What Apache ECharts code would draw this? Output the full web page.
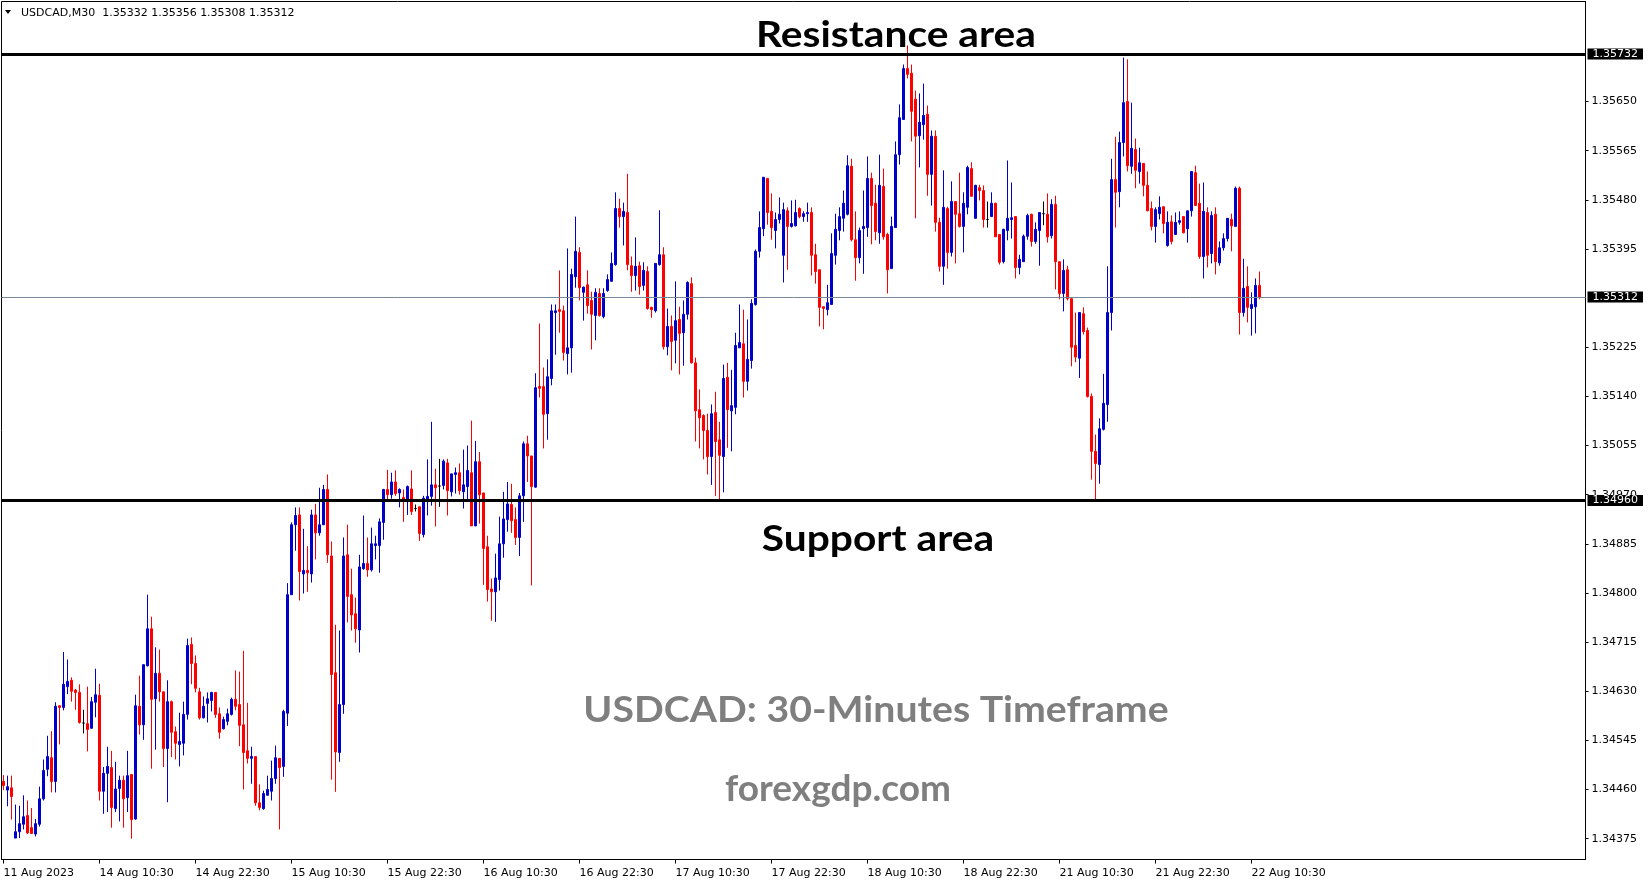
<!DOCTYPE html>
<html>
<head>
<meta charset="utf-8">
<script src="https://cdn.jsdelivr.net/npm/echarts@6/dist/echarts.min.js"></script>
<style>
html,body{margin:0;padding:0;background:#ffffff;}
#chart{width:1649px;height:884px;}
</style>
</head>
<body>
<div id="chart"></div>
<script>
// ---------- data ----------
const symbolName = 'USDCAD,M30';
const tickLabels = ['11 Aug 2023','14 Aug 10:30','14 Aug 22:30','15 Aug 10:30','15 Aug 22:30','16 Aug 10:30','16 Aug 22:30','17 Aug 10:30','17 Aug 22:30','18 Aug 10:30','18 Aug 22:30','21 Aug 10:30','21 Aug 22:30','22 Aug 10:30'];
const barsPerLabel = 24;
const totalSlots = 396;

const opens = [
1.34474,1.34459,1.34463,1.34376,1.34387,1.34400,1.34415,1.34394,1.34383,1.34400,
1.34444,1.34495,1.34515,1.34474,1.34605,1.34602,1.34638,1.34649,1.34632,1.34628,
1.34575,1.34574,1.34566,1.34611,1.34623,1.34457,1.34488,1.34498,1.34427,1.34462,
1.34476,1.34446,1.34486,1.34409,1.34604,1.34572,1.34674,1.34738,1.34617,1.34661,
1.34629,1.34531,1.34612,1.34560,1.34538,1.34540,1.34590,1.34711,1.34678,1.34629,
1.34584,1.34609,1.34614,1.34628,1.34591,1.34565,1.34578,1.34590,1.34616,1.34607,
1.34572,1.34527,1.34514,1.34517,1.34437,1.34427,1.34450,1.34457,1.34479,1.34514,
1.34500,1.34592,1.34797,1.34918,1.34935,1.34833,1.34839,1.34833,1.34935,1.34904,
1.34918,1.34979,1.34864,1.34662,1.34524,1.34607,1.34866,1.34797,1.34764,1.34736,
1.34842,1.34851,1.34840,1.34882,1.34882,1.34922,1.34979,1.34970,1.34992,1.34973,
1.34965,1.34961,1.34980,1.34946,1.34949,1.34901,1.34961,1.34967,1.34987,1.34985,
1.34986,1.35025,1.34975,1.35005,1.35008,1.34975,1.34984,1.35008,1.34916,1.35027,
1.34973,1.34880,1.34807,1.34802,1.34823,1.34885,1.34927,1.34953,1.34927,1.34896,
1.34968,1.35058,1.35037,1.34983,1.35157,1.35157,1.35110,1.35171,1.35285,1.35290,
1.35288,1.35214,1.35224,1.35347,1.35389,1.35320,1.35333,1.35306,1.35280,1.35318,
1.35278,1.35323,1.35339,1.35368,1.35465,1.35451,1.35458,1.35366,1.35349,1.35366,
1.35332,1.35356,1.35294,1.35288,1.35368,1.35385,1.35226,1.35261,1.35237,1.35273,
1.35250,1.35282,1.35335,1.35198,1.35117,1.35107,1.35081,1.35036,1.35112,1.35065,
1.35036,1.35173,1.35115,1.35121,1.35224,1.35231,1.35166,1.35202,1.35299,1.35391,
1.35430,1.35517,1.35460,1.35427,1.35446,1.35384,1.35461,1.35434,1.35435,1.35465,
1.35451,1.35456,1.35458,1.35385,1.35359,1.35295,1.35290,1.35299,1.35384,1.35427,
1.35448,1.35455,1.35538,1.35411,1.35380,1.35430,1.35432,1.35517,1.35474,1.35423,
1.35503,1.35420,1.35361,1.35432,1.35558,1.35619,1.35707,1.35699,1.35654,1.35591,
1.35610,1.35628,1.35524,1.35590,1.35441,1.35365,1.35465,1.35389,1.35477,1.35456,
1.35434,1.35467,1.35534,1.35448,1.35501,1.35496,1.35446,1.35451,1.35474,1.35420,
1.35373,1.35427,1.35446,1.35451,1.35363,1.35373,1.35417,1.35455,1.35408,1.35427,
1.35456,1.35455,1.35418,1.35472,1.35373,1.35318,1.35359,1.35309,1.35228,1.35206,
1.35283,1.35254,1.35140,1.35045,1.35022,1.35083,1.35126,1.35285,1.35515,1.35494,
1.35579,1.35650,1.35538,1.35567,1.35529,1.35543,1.35505,1.35465,1.35434,1.35456,
1.35468,1.35401,1.35442,1.35420,1.35441,1.35451,1.35430,1.35461,1.35527,1.35474,
1.35382,1.35458,1.35387,1.35455,1.35371,1.35397,1.35413,1.35446,1.35434,1.35500,
1.35285,1.35330,1.35292,1.35295,1.35332
];
const highs = [
1.34485,1.34484,1.34484,1.34434,1.34432,1.34450,1.34441,1.34428,1.34409,1.34465,
1.34512,1.34553,1.34561,1.34611,1.34605,1.34698,1.34685,1.34654,1.34634,1.34642,
1.34598,1.34638,1.34620,1.34669,1.34643,1.34499,1.34534,1.34527,1.34508,1.34484,
1.34484,1.34527,1.34486,1.34624,1.34657,1.34676,1.34797,1.34759,1.34706,1.34702,
1.34629,1.34649,1.34614,1.34569,1.34593,1.34612,1.34721,1.34723,1.34692,1.34636,
1.34621,1.34628,1.34629,1.34628,1.34602,1.34586,1.34600,1.34619,1.34666,1.34664,
1.34700,1.34610,1.34534,1.34517,1.34469,1.34458,1.34484,1.34510,1.34536,1.34514,
1.34598,1.34817,1.34922,1.34948,1.34948,1.34911,1.34881,1.34944,1.34954,1.34982,
1.34987,1.35005,1.34889,1.34745,1.34735,1.34896,1.34918,1.34842,1.34792,1.34866,
1.34934,1.34896,1.34913,1.34899,1.34929,1.34980,1.35013,1.35008,1.35012,1.34981,
1.34979,1.34986,1.35012,1.34953,1.34949,1.34968,1.35031,1.35096,1.35015,1.35032,
1.35031,1.35032,1.35006,1.35017,1.35024,1.35048,1.35055,1.35098,1.35063,1.35044,
1.34973,1.34899,1.34825,1.34868,1.34932,1.34975,1.34992,1.34989,1.34948,1.34973,
1.35062,1.35072,1.35037,1.35180,1.35266,1.35190,1.35204,1.35299,1.35299,1.35358,
1.35297,1.35396,1.35361,1.35451,1.35398,1.35330,1.35358,1.35321,1.35327,1.35327,
1.35327,1.35351,1.35389,1.35493,1.35482,1.35475,1.35525,1.35382,1.35415,1.35373,
1.35372,1.35365,1.35295,1.35370,1.35462,1.35398,1.35292,1.35280,1.35339,1.35295,
1.35306,1.35339,1.35346,1.35207,1.35152,1.35109,1.35110,1.35126,1.35148,1.35096,
1.35195,1.35198,1.35186,1.35250,1.35299,1.35290,1.35273,1.35308,1.35394,1.35460,
1.35519,1.35517,1.35491,1.35458,1.35484,1.35475,1.35467,1.35479,1.35480,1.35467,
1.35460,1.35475,1.35467,1.35404,1.35359,1.35295,1.35333,1.35422,1.35456,1.35467,
1.35496,1.35557,1.35551,1.35460,1.35432,1.35496,1.35555,1.35527,1.35506,1.35558,
1.35534,1.35423,1.35451,1.35581,1.35645,1.35714,1.35747,1.35714,1.35669,1.35664,
1.35681,1.35643,1.35600,1.35600,1.35449,1.35531,1.35468,1.35512,1.35477,1.35527,
1.35493,1.35539,1.35545,1.35506,1.35506,1.35505,1.35477,1.35493,1.35475,1.35420,
1.35430,1.35548,1.35510,1.35451,1.35385,1.35420,1.35456,1.35456,1.35441,1.35458,
1.35477,1.35491,1.35481,1.35487,1.35373,1.35377,1.35366,1.35312,1.35285,1.35285,
1.35294,1.35259,1.35145,1.35074,1.35102,1.35179,1.35365,1.35551,1.35589,1.35598,
1.35726,1.35723,1.35648,1.35586,1.35570,1.35543,1.35529,1.35477,1.35467,1.35486,
1.35468,1.35460,1.35453,1.35458,1.35460,1.35451,1.35461,1.35529,1.35539,1.35508,
1.35510,1.35467,1.35460,1.35467,1.35408,1.35422,1.35448,1.35456,1.35503,1.35503,
1.35378,1.35365,1.35320,1.35344,1.35356
];
const lows = [
1.34459,1.34431,1.34408,1.34376,1.34376,1.34391,1.34383,1.34383,1.34379,1.34396,
1.34441,1.34483,1.34455,1.34455,1.34538,1.34597,1.34625,1.34612,1.34598,1.34574,
1.34557,1.34526,1.34565,1.34585,1.34441,1.34418,1.34421,1.34394,1.34421,1.34405,
1.34394,1.34421,1.34375,1.34408,1.34555,1.34546,1.34673,1.34496,1.34529,1.34612,
1.34499,1.34438,1.34516,1.34512,1.34500,1.34519,1.34581,1.34642,1.34628,1.34581,
1.34583,1.34576,1.34595,1.34584,1.34548,1.34564,1.34571,1.34588,1.34597,1.34535,
1.34460,1.34505,1.34470,1.34432,1.34424,1.34425,1.34450,1.34441,1.34470,1.34391,
1.34482,1.34570,1.34797,1.34873,1.34787,1.34799,1.34802,1.34818,1.34858,1.34899,
1.34918,1.34852,1.34477,1.34456,1.34508,1.34591,1.34749,1.34735,1.34714,1.34697,
1.34840,1.34828,1.34837,1.34858,1.34835,1.34892,1.34961,1.34963,1.34968,1.34948,
1.34923,1.34935,1.34935,1.34941,1.34890,1.34896,1.34934,1.34951,1.34915,1.34949,
1.34979,1.34934,1.34967,1.34972,1.34970,1.34946,1.34960,1.34916,1.34916,1.34920,
1.34814,1.34785,1.34752,1.34750,1.34804,1.34861,1.34906,1.34904,1.34883,1.34864,
1.34923,1.34992,1.34813,1.34982,1.35138,1.35050,1.35065,1.35159,1.35212,1.35250,
1.35202,1.35178,1.35181,1.35328,1.35306,1.35271,1.35283,1.35221,1.35237,1.35278,
1.35275,1.35321,1.35339,1.35366,1.35432,1.35401,1.35358,1.35321,1.35323,1.35316,
1.35323,1.35290,1.35276,1.35285,1.35366,1.35221,1.35211,1.35185,1.35197,1.35178,
1.35193,1.35273,1.35197,1.35062,1.35050,1.35031,1.35005,1.34987,1.34968,1.34961,
1.34974,1.35051,1.35045,1.35109,1.35224,1.35138,1.35150,1.35188,1.35297,1.35380,
1.35417,1.35437,1.35411,1.35396,1.35439,1.35337,1.35359,1.35432,1.35434,1.35448,
1.35442,1.35442,1.35349,1.35335,1.35261,1.35256,1.35280,1.35299,1.35368,1.35410,
1.35425,1.35453,1.35408,1.35340,1.35370,1.35352,1.35416,1.35403,1.35410,1.35404,
1.35411,1.35318,1.35361,1.35432,1.35541,1.35619,1.35690,1.35581,1.35448,1.35536,
1.35584,1.35487,1.35470,1.35425,1.35356,1.35333,1.35361,1.35382,1.35370,1.35432,
1.35389,1.35455,1.35486,1.35448,1.35479,1.35432,1.35432,1.35451,1.35416,1.35368,
1.35370,1.35410,1.35413,1.35344,1.35351,1.35373,1.35411,1.35399,1.35404,1.35366,
1.35436,1.35406,1.35413,1.35325,1.35308,1.35287,1.35306,1.35192,1.35199,1.35172,
1.35247,1.35138,1.34996,1.34961,1.34989,1.35081,1.35096,1.35254,1.35432,1.35467,
1.35555,1.35529,1.35525,1.35500,1.35508,1.35486,1.35460,1.35427,1.35406,1.35446,
1.35422,1.35399,1.35403,1.35420,1.35437,1.35422,1.35406,1.35451,1.35470,1.35378,
1.35344,1.35363,1.35370,1.35351,1.35366,1.35392,1.35408,1.35391,1.35434,1.35247,
1.35278,1.35268,1.35245,1.35249,1.35308
];
const closes = [
1.34467,1.34465,1.34448,1.34387,1.34401,1.34413,1.34385,1.34384,1.34401,1.34444,
1.34493,1.34517,1.34474,1.34604,1.34602,1.34642,1.34647,1.34630,1.34628,1.34576,
1.34575,1.34564,1.34612,1.34624,1.34457,1.34488,1.34500,1.34429,1.34461,1.34476,
1.34444,1.34484,1.34408,1.34605,1.34572,1.34676,1.34738,1.34616,1.34661,1.34629,
1.34531,1.34612,1.34559,1.34540,1.34543,1.34590,1.34709,1.34678,1.34635,1.34584,
1.34604,1.34617,1.34628,1.34590,1.34559,1.34581,1.34591,1.34616,1.34604,1.34571,
1.34524,1.34514,1.34517,1.34437,1.34429,1.34453,1.34460,1.34479,1.34515,1.34498,
1.34595,1.34797,1.34918,1.34934,1.34837,1.34839,1.34835,1.34935,1.34904,1.34918,
1.34979,1.34866,1.34659,1.34525,1.34607,1.34864,1.34794,1.34762,1.34738,1.34845,
1.34851,1.34840,1.34885,1.34885,1.34923,1.34979,1.34970,1.34992,1.34972,1.34979,
1.34961,1.34984,1.34941,1.34946,1.34903,1.34964,1.34967,1.34987,1.34982,1.34985,
1.35028,1.34977,1.35006,1.35008,1.34977,1.34987,1.35012,1.34916,1.35027,1.34970,
1.34877,1.34806,1.34802,1.34826,1.34885,1.34928,1.34954,1.34925,1.34896,1.34968,
1.35058,1.35037,1.34984,1.35155,1.35154,1.35109,1.35174,1.35288,1.35288,1.35287,
1.35216,1.35224,1.35351,1.35391,1.35328,1.35329,1.35297,1.35282,1.35320,1.35280,
1.35318,1.35342,1.35370,1.35465,1.35451,1.35460,1.35368,1.35349,1.35365,1.35330,
1.35358,1.35292,1.35290,1.35370,1.35385,1.35226,1.35261,1.35235,1.35271,1.35249,
1.35282,1.35337,1.35198,1.35115,1.35103,1.35081,1.35036,1.35110,1.35062,1.35038,
1.35171,1.35117,1.35124,1.35228,1.35233,1.35166,1.35204,1.35301,1.35391,1.35432,
1.35519,1.35458,1.35432,1.35446,1.35455,1.35463,1.35434,1.35439,1.35458,1.35451,
1.35456,1.35458,1.35384,1.35356,1.35294,1.35292,1.35302,1.35387,1.35429,1.35451,
1.35474,1.35539,1.35411,1.35380,1.35427,1.35434,1.35517,1.35470,1.35425,1.35505,
1.35416,1.35359,1.35434,1.35558,1.35622,1.35707,1.35697,1.35633,1.35590,1.35614,
1.35626,1.35524,1.35590,1.35441,1.35365,1.35467,1.35389,1.35477,1.35455,1.35434,
1.35474,1.35536,1.35486,1.35505,1.35496,1.35446,1.35446,1.35474,1.35416,1.35372,
1.35429,1.35448,1.35449,1.35363,1.35377,1.35417,1.35453,1.35408,1.35429,1.35458,
1.35456,1.35416,1.35472,1.35373,1.35318,1.35358,1.35309,1.35225,1.35208,1.35285,
1.35252,1.35140,1.35045,1.35024,1.35084,1.35128,1.35285,1.35515,1.35493,1.35579,
1.35648,1.35539,1.35569,1.35531,1.35544,1.35505,1.35461,1.35434,1.35463,1.35467,
1.35439,1.35441,1.35408,1.35441,1.35444,1.35423,1.35461,1.35529,1.35470,1.35382,
1.35460,1.35384,1.35453,1.35373,1.35397,1.35413,1.35448,1.35435,1.35500,1.35285,
1.35327,1.35294,1.35299,1.35332,1.35312
];

const yTickValues = [1.34375,1.34460,1.34545,1.34630,1.34715,1.34800,1.34885,1.34970,1.35055,1.35140,1.35225,1.35395,1.35480,1.35565,1.35650];
const yMin = 1.34339;
const yMax = 1.35823;
const resistanceLevel = 1.35732;
const supportLevel = 1.34960;
const bidLevel = 1.35312;
const annotationTexts = ['Resistance area','Support area','USDCAD: 30-Minutes Timeframe','forexgdp.com'];

// ---------- build ----------
const slotNames = [];
for (let i = 0; i < totalSlots; i++) slotNames.push(String(i));
const candleData = opens.map((o, i) => [o, closes[i], lows[i], highs[i]]);
const last = opens.length - 1;
const headerText = symbolName + '  ' + [opens[last], highs[last], lows[last], closes[last]].map(v => v.toFixed(5)).join(' ');
const isLabelSlot = (idx) => idx % barsPerLabel === 0 && (idx / barsPerLabel) < tickLabels.length && idx <= last;

const axisFont = 'DejaVu Sans';
const boxLabel = {
  show: true, position: 'end', distance: 2,
  formatter: p => Number(p.value).toFixed(5),
  color: '#ffffff', backgroundColor: '#000000',
  fontFamily: axisFont, fontSize: 11, lineHeight: 11, padding: [0, 5, 0, 5]
};

const chart = echarts.init(document.getElementById('chart'), null, {renderer: 'canvas'});
chart.setOption({
  animation: false,
  backgroundColor: '#ffffff',
  grid: {
    left: 1.5, top: 1.5, width: 1584, height: 858,
    show: true, borderColor: '#000000', borderWidth: 1, backgroundColor: '#ffffff',
    containLabel: false, outerBoundsMode: 'none'
  },
  xAxis: {
    type: 'category', data: slotNames, boundaryGap: true,
    axisLine: {show: true, lineStyle: {color: '#000000', width: 1}},
    axisTick: {show: true, alignWithLabel: true, length: 4, interval: isLabelSlot, lineStyle: {color: '#000000'}},
    axisLabel: {
      show: true, interval: isLabelSlot,
      formatter: (v, idx) => isLabelSlot(idx) ? tickLabels[idx / barsPerLabel] : '',
      align: 'left', color: '#000000', fontFamily: axisFont, fontSize: 11, margin: 8,
      showMinLabel: true, hideOverlap: false
    },
    splitLine: {show: false}
  },
  yAxis: {
    type: 'value', position: 'right', min: yMin, max: yMax, scale: true,
    splitLine: {show: false},
    axisLine: {show: true, lineStyle: {color: '#000000'}},
    axisTick: {show: true, length: 3, customValues: yTickValues, lineStyle: {color: '#000000'}},
    axisLabel: {
      show: true, customValues: yTickValues,
      formatter: v => Number(v).toFixed(5),
      color: '#000000', fontFamily: axisFont, fontSize: 11, margin: 6, padding: [3, 0, 0, 0]
    }
  },
  series: [{
    type: 'candlestick',
    data: candleData,
    barWidth: 2,
    itemStyle: {
      color: '#0000CC', color0: '#FF0000',
      borderColor: '#0000CC', borderColor0: '#FF0000', borderColorDoji: '#000000',
      borderWidth: 1
    },
    emphasis: {disabled: true},
    silent: true,
    markLine: {
      silent: true, symbol: ['none', 'none'], animation: false, z: 5, precision: 5,
      label: boxLabel,
      emphasis: {disabled: true},
      data: [
        {yAxis: resistanceLevel, lineStyle: {color: '#000000', width: 3, type: 'solid'}},
        {yAxis: supportLevel, lineStyle: {color: '#000000', width: 3, type: 'solid'}},
        {yAxis: bidLevel, lineStyle: {color: '#778899', width: 1, type: 'solid'}}
      ]
    }
  }],
  graphic: [
    {type: 'polygon', shape: {points: [[5, 10], [11, 10], [8, 14]]}, style: {fill: '#000000'}, silent: true},
    {type: 'text', x: 21, y: 13, silent: true, style: {text: headerText, fill: '#000000', font: '11px "DejaVu Sans"', verticalAlign: 'middle', align: 'left'}},
    {type: 'text', x: 896, y: 35, scaleX: 1.1, silent: true, style: {text: annotationTexts[0], fill: '#000000', font: 'bold 37px Lato', verticalAlign: 'middle', align: 'center'}},
    {type: 'text', x: 878, y: 539, scaleX: 1.1, silent: true, style: {text: annotationTexts[1], fill: '#000000', font: 'bold 37px Lato', verticalAlign: 'middle', align: 'center'}},
    {type: 'text', x: 876, y: 710, scaleX: 1.06, silent: true, style: {text: annotationTexts[2], fill: '#7f7f7f', font: 'bold 37px Lato', verticalAlign: 'middle', align: 'center'}},
    {type: 'text', x: 838, y: 789, silent: true, style: {text: annotationTexts[3], fill: '#7f7f7f', font: 'bold 37px Lato', verticalAlign: 'middle', align: 'center'}}
  ]
});
</script>
</body>
</html>
